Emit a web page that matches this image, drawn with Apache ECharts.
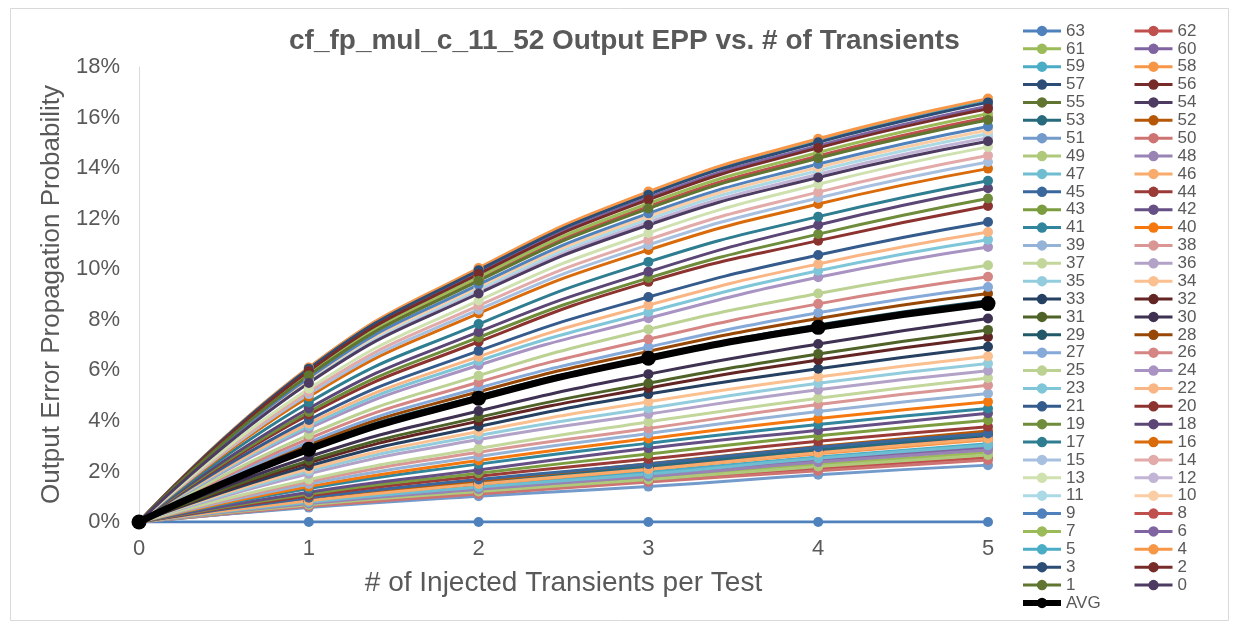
<!DOCTYPE html>
<html>
<head>
<meta charset="utf-8">
<title>cf_fp_mul_c_11_52 Output EPP vs. # of Transients</title>
<script src="https://cdn.jsdelivr.net/npm/echarts@6/dist/echarts.min.js"></script>
<style>
  html, body { margin: 0; padding: 0; background: #ffffff; }
  #chart { width: 1235px; height: 631px; }
</style>
</head>
<body>
<div id="chart"></div>
<script>
// Number of injected transients per test (x categories)
const categories = ['0', '1', '2', '3', '4', '5'];

// Output error propagation probability (%) per output bit, one row per bit.
// Mantissa bits 0..51
const mantissaBits = [
  [0, 5.50, 9.04, 11.75, 13.63, 15.06],  // 0
  [0, 5.80, 9.54, 12.40, 14.39, 15.90],  // 1
  [0, 5.97, 9.81, 12.75, 14.80, 16.35],  // 2
  [0, 6.06, 9.96, 12.95, 15.02, 16.60],  // 3
  [0, 6.11, 10.05, 13.07, 15.16, 16.75], // 4
  [0, 6.10, 10.02, 13.03, 15.11, 16.70], // 5
  [0, 6.00, 9.87, 12.83, 14.89, 16.45],  // 6
  [0, 5.89, 9.69, 12.60, 14.62, 16.15],  // 7
  [0, 5.84, 9.60, 12.48, 14.48, 16.00],  // 8
  [0, 5.71, 9.39, 12.21, 14.16, 15.65],  // 9
  [0, 5.66, 9.30, 12.09, 14.03, 15.50],  // 10
  [0, 5.61, 9.22, 11.98, 13.90, 15.36],  // 11
  [0, 5.55, 9.12, 11.86, 13.76, 15.20],  // 12
  [0, 5.27, 8.76, 11.43, 13.36, 14.84],  // 13
  [0, 5.15, 8.56, 11.17, 13.05, 14.50],  // 14
  [0, 5.06, 8.40, 10.96, 12.82, 14.24],  // 15
  [0, 4.96, 8.25, 10.76, 12.58, 13.98],  // 16
  [0, 4.73, 7.83, 10.29, 12.08, 13.50],  // 17
  [0, 4.49, 7.52, 9.90, 11.75, 13.20],   // 18
  [0, 4.35, 7.30, 9.65, 11.39, 12.80],   // 19
  [0, 4.25, 7.13, 9.50, 11.13, 12.50],   // 20
  [0, 4.04, 6.77, 8.90, 10.56, 11.87],   // 21
  [0, 3.90, 6.54, 8.58, 10.21, 11.47],   // 22
  [0, 3.80, 6.37, 8.31, 9.94, 11.17],    // 23
  [0, 3.70, 6.20, 8.06, 9.68, 10.88],    // 24
  [0, 3.45, 5.79, 7.62, 9.04, 10.16],    // 25
  [0, 3.30, 5.53, 7.23, 8.63, 9.70],     // 26
  [0, 3.16, 5.30, 6.92, 8.28, 9.30],     // 27
  [0, 3.07, 5.15, 6.75, 8.05, 9.04],     // 28
  [0, 2.98, 4.99, 6.53, 7.79, 8.75],     // 29
  [0, 2.58, 4.39, 5.85, 7.04, 8.05],     // 30
  [0, 2.43, 4.14, 5.49, 6.65, 7.60],     // 31
  [0, 2.34, 3.99, 5.30, 6.41, 7.32],     // 32
  [0, 2.22, 3.78, 5.06, 6.06, 6.93],     // 33
  [0, 2.10, 3.58, 4.76, 5.74, 6.56],     // 34
  [0, 2.01, 3.42, 4.50, 5.49, 6.27],     // 35
  [0, 1.91, 3.26, 4.27, 5.23, 5.98],     // 36
  [0, 1.68, 2.91, 3.96, 4.90, 5.70],     // 37
  [0, 1.60, 2.76, 3.70, 4.65, 5.41],     // 38
  [0, 1.50, 2.59, 3.50, 4.37, 5.08],     // 39
  [0, 1.40, 2.43, 3.30, 4.09, 4.76],     // 40
  [0, 1.32, 2.29, 3.12, 3.86, 4.49],     // 41
  [0, 1.18, 2.06, 2.92, 3.63, 4.30],     // 42
  [0, 1.11, 1.93, 2.69, 3.41, 4.03],     // 43
  [0, 1.04, 1.81, 2.49, 3.19, 3.77],     // 44
  [0, 0.96, 1.68, 2.29, 2.96, 3.50],     // 45
  [0, 0.84, 1.50, 2.09, 2.74, 3.30],     // 46
  [0, 0.78, 1.38, 1.90, 2.52, 3.04],     // 47
  [0, 0.73, 1.30, 1.80, 2.37, 2.85],     // 48
  [0, 0.68, 1.21, 1.68, 2.20, 2.65],     // 49
  [0, 0.62, 1.11, 1.58, 2.03, 2.45],     // 50
  [0, 0.57, 1.02, 1.40, 1.87, 2.25]      // 51
];

// Exponent bits 52..62
const exponentBits = [
  [0, 0.86, 1.62, 2.30, 2.99, 3.60],     // 52
  [0, 0.83, 1.55, 2.21, 2.86, 3.45],     // 53
  [0, 0.82, 1.53, 2.18, 2.82, 3.40],     // 54
  [0, 0.80, 1.51, 2.14, 2.78, 3.35],     // 55
  [0, 0.82, 1.54, 2.19, 2.84, 3.42],     // 56
  [0, 0.81, 1.52, 2.16, 2.81, 3.38],     // 57
  [0, 0.78, 1.46, 2.08, 2.70, 3.25],     // 58
  [0, 0.74, 1.40, 1.98, 2.57, 3.10],     // 59
  [0, 0.71, 1.33, 1.89, 2.45, 2.95],     // 60
  [0, 0.66, 1.24, 1.76, 2.28, 2.75],     // 61
  [0, 0.61, 1.15, 1.63, 2.12, 2.55]      // 62
];

// Sign bit 63
const signBit = [0, 0, 0, 0, 0, 0];

// Average over all bits
const avgEpp = [0, 2.88, 4.90, 6.48, 7.70, 8.64];

// Line colours, indexed by bit number
const bitColors = [
  '#4D3B62', '#5F7530', '#772C2A', '#2C4D75',                       // 0-3
  '#F79646', '#4BACC6', '#8064A2', '#9BBB59', '#C0504D', '#4F81BD', // 4-9
  '#FBCDA5', '#ABDAE6', '#C2B4D5', '#D0E1B0', '#E2AAA8', '#A8C0E0', // 10-15
  '#D96B0B', '#2E7D91', '#5B4675', '#6E8C3A', '#8C3330', '#345B8C', // 16-21
  '#F9B684', '#80C6D9', '#A893C2', '#BBD293', '#D58583', '#85A9D8', // 22-27
  '#974806', '#215968', '#3F3151', '#4F6228', '#632523', '#254061', // 28-33
  '#FAC090', '#93CDDD', '#B3A2C7', '#C3D69B', '#D99694', '#95B3D7', // 34-39
  '#F5780E', '#31859C', '#664F84', '#7C9D3F', '#9A3B38', '#3A679C', // 40-45
  '#F9AB6B', '#6FBDD1', '#9983B5', '#AFC97A', '#CD7371', '#729ACA', // 46-51
  '#B65708', '#276A7C', '#4D3B62', '#5F7530', '#772C2A', '#2C4D75', // 52-57
  '#F79646', '#4BACC6', '#8064A2', '#9BBB59', '#C0504D', '#4F81BD'  // 58-63
];

const FONT = '"Liberation Sans", Arial, sans-serif';
const TEXT = '#595959';

function bitValues(bit) {
  if (bit <= 51) return mantissaBits[bit];
  if (bit <= 62) return exponentBits[bit - 52];
  return signBit;
}

// Series are drawn from bit 63 down to bit 0, then the average on top
const series = [];
for (let bit = 63; bit >= 0; bit--) {
  series.push({
    name: String(bit),
    type: 'line',
    data: bitValues(bit),
    smooth: true,
    symbol: 'circle',
    symbolSize: 10,
    lineStyle: { width: 3, color: bitColors[bit] },
    itemStyle: { color: bitColors[bit] },
    emphasis: { disabled: true },
    animation: false
  });
}
series.push({
  name: 'AVG',
  type: 'line',
  data: avgEpp,
  smooth: true,
  symbol: 'circle',
  symbolSize: 15,
  lineStyle: { width: 7, color: '#000000' },
  itemStyle: { color: '#000000' },
  emphasis: { disabled: true },
  animation: false,
  z: 3
});

// Two legend columns: odd bits + AVG on the left, even bits on the right
const leftCol = [];
const rightCol = [];
for (let bit = 63; bit >= 0; bit--) {
  (bit % 2 === 1 ? leftCol : rightCol).push({ name: String(bit), lineStyle: { width: 3 } });
}
leftCol.push({ name: 'AVG', lineStyle: { width: 6 } });

const legendBase = {
  orient: 'vertical',
  top: 22,
  padding: 0,
  itemWidth: 38,
  itemHeight: 13,
  itemGap: 0,
  selectedMode: false,
  textStyle: { fontSize: 17, color: TEXT, fontFamily: FONT, lineHeight: 17.875 }
};

const chart = echarts.init(document.getElementById('chart'), null, { renderer: 'canvas' });
chart.setOption({
  backgroundColor: '#ffffff',
  animation: false,
  title: {
    text: 'cf_fp_mul_c_11_52 Output EPP vs. # of Transients',
    left: 289,
    top: 27,
    padding: 0,
    textStyle: { fontSize: 28, fontWeight: 'bold', color: TEXT, fontFamily: FONT }
  },
  legend: [
    Object.assign({}, legendBase, { left: 1020, data: leftCol }),
    Object.assign({}, legendBase, { left: 1133, data: rightCol })
  ],
  grid: { left: 139, right: 247, top: 67, bottom: 109, containLabel: false },
  xAxis: {
    type: 'category',
    data: categories,
    boundaryGap: false,
    axisLine: { show: true, lineStyle: { color: '#D9D9D9', width: 1 } },
    axisTick: { show: false },
    axisLabel: { fontSize: 22, color: TEXT, fontFamily: FONT, margin: 16 },
    splitLine: { show: false },
    name: '# of Injected Transients per Test',
    nameLocation: 'middle',
    nameGap: 47,
    nameTextStyle: { fontSize: 28, color: TEXT, fontFamily: FONT }
  },
  yAxis: {
    type: 'value',
    min: 0,
    max: 18,
    interval: 2,
    axisLine: { show: true, lineStyle: { color: '#D9D9D9', width: 1 } },
    axisTick: { show: false },
    axisLabel: { fontSize: 22, color: TEXT, fontFamily: FONT, margin: 19, formatter: '{value}%' },
    splitLine: { show: false },
    name: 'Output Error Propagation Probability',
    nameLocation: 'middle',
    nameGap: 68,
    nameRotate: 90,
    nameTextStyle: { fontSize: 26, color: TEXT, fontFamily: FONT }
  },
  graphic: [{
    type: 'rect',
    shape: { x: 10.5, y: 8.5, width: 1218, height: 612 },
    style: { fill: 'none', stroke: '#D9D9D9', lineWidth: 1 },
    silent: true,
    z: -10
  }],
  series: series
});
</script>
</body>
</html>
